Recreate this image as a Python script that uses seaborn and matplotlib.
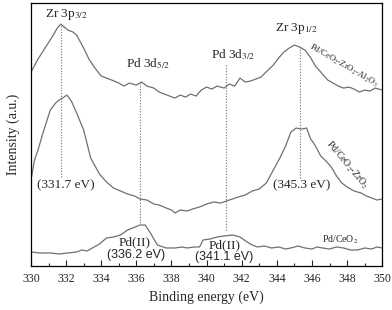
import numpy as np
import pandas as pd
import matplotlib
matplotlib.use("Agg")
import matplotlib.pyplot as plt
import seaborn as sns

# 三条XPS谱线 (结合能 eV, 强度 a.u.)
e_top = [330.0, 330.4, 330.8, 331.2, 331.5, 331.7, 331.9, 332.1, 332.4, 332.6, 333.0, 333.3, 333.6,
         334.0, 334.3, 334.6, 335.0, 335.3, 335.6, 336.0, 336.3, 336.6, 337.0, 337.3, 337.6, 337.9,
         338.2, 338.5, 338.8, 339.1, 339.4, 339.7, 340.0, 340.3, 340.6, 341.0, 341.3, 341.6, 341.9,
         342.2, 342.5, 342.8, 343.1, 343.5, 343.8, 344.1, 344.4, 344.7, 345.0, 345.3, 345.6, 345.9,
         346.2, 346.5, 346.9, 347.2, 347.5, 347.8, 348.1, 348.4, 348.7, 349.0, 349.3, 349.6, 350.0]
i_top = [194, 207, 218, 229, 238, 242, 239, 236, 234, 231, 218, 207, 199,
         190, 188, 186, 183, 180, 183, 181, 184, 180, 178, 174, 172, 170,
         168, 171, 169, 172, 170, 176, 179, 177, 180, 178, 182, 180, 188,
         184, 185, 187, 189, 196, 201, 208, 214, 218, 221, 219, 216, 209,
         200, 194, 186, 183, 180, 178, 179, 177, 174, 176, 175, 178, 176]

e_mid = [330.0, 330.2, 330.4, 330.7, 331.1, 331.4, 331.6, 331.8, 332.05, 332.3, 332.6, 333.0, 333.4,
         333.9, 334.3, 334.7, 335.1, 335.5, 335.9, 336.2, 336.6, 337.0, 337.3, 337.7, 338.0, 338.2,
         338.5, 338.9, 339.2, 339.6, 340.0, 340.4, 340.8, 341.3, 341.8, 342.2, 342.6, 343.0, 343.4,
         343.8, 344.2, 344.5, 344.8, 345.1, 345.4, 345.7, 345.9, 346.2, 346.5, 346.8, 347.1, 347.4,
         347.7, 348.0, 348.4, 348.8, 349.1, 349.4, 349.7, 350.0]
i_mid = [86, 106, 116, 134, 156, 163, 166, 168, 171, 165, 153, 136, 108,
         92, 84, 78, 75, 72, 70, 67, 66, 62, 61, 58, 56, 53,
         56, 55, 57, 59, 62, 64, 63, 66, 69, 71, 75, 77, 83,
         96, 109, 120, 134, 138, 137, 138, 128, 120, 110, 105, 99, 90,
         83, 79, 75, 73, 70, 68, 66, 67]

e_bot = [330.0, 330.5, 331.1, 331.6, 332.1, 332.6, 332.9, 333.2, 333.5, 333.9, 334.3, 334.7, 335.1,
         335.5, 335.8, 336.2, 336.5, 336.8, 337.2, 337.7, 338.2, 338.6, 338.9, 339.3, 339.6, 339.8,
         340.2, 340.6, 341.0, 341.5, 341.9, 342.3, 342.6, 342.9, 343.3, 343.7, 344.1, 344.5, 344.8,
         345.2, 345.6, 346.0, 346.3, 346.6, 347.0, 347.4, 347.8, 348.2, 348.6, 349.0, 349.4, 349.7, 350.0]
i_bot = [14, 13, 13, 12, 13, 14, 16, 15, 18, 22, 28, 29, 31,
         36, 38, 41, 41, 33, 21, 18, 18, 19, 18, 19, 19, 26,
         27, 29, 30, 31, 29, 24, 21, 19, 20, 18, 19, 17, 18,
         20, 18, 17, 19, 18, 17, 19, 18, 16, 16, 18, 17, 19, 18]

# 峰位标注
peak_pos = [331.7, 336.2, 341.1, 345.3]
peak_lo = [89, 43, 36, 88]
peak_hi = [242, 184, 201, 221]

sns.set_style("ticks")
plt.rcParams['font.family'] = ['Liberation Serif', 'DejaVu Serif']
plt.rcParams['mathtext.fontset'] = 'stix'

fig = plt.figure(figsize=(3.92, 3.10), dpi=100)
ax = fig.add_axes([0.079, 0.142, 0.896, 0.848])

for e, i in [(e_top, i_top), (e_mid, i_mid), (e_bot, i_bot)]:
    df = pd.DataFrame({'E': e, 'I': i})
    sns.lineplot(data=df, x='E', y='I', ax=ax, color='#707070', linewidth=0.9)

ax.vlines(peak_pos, peak_lo, peak_hi, colors='#707070', linestyles=(0, (1, 1.5)), linewidth=0.8)

ax.set_xlim(330, 350)
ax.set_ylim(0, 263)
ax.set_xticks(np.arange(330, 351, 2))
ax.set_xticks(np.arange(330, 351, 1), minor=True)
ax.set_yticks([])
ax.tick_params(axis='x', which='major', direction='in', length=4, width=0.8, labelsize=8.5, pad=5)
ax.tick_params(axis='x', which='minor', direction='in', length=2, width=0.8)
for s in ax.spines.values():
    s.set_linewidth(0.9)
    s.set_color('black')

ax.set_xlabel('Binding energy (eV)', fontsize=10, labelpad=4)
ax.set_ylabel('Intensity (a.u.)', fontsize=10, labelpad=8)

ax.text(332.0, 252, r'Zr 3p$_{3/2}$', fontsize=9.5, ha='center', va='center')
ax.text(336.7, 202, r'Pd 3d$_{5/2}$', fontsize=9.5, ha='center', va='center')
ax.text(341.5, 211, r'Pd 3d$_{3/2}$', fontsize=9.5, ha='center', va='center')
ax.text(345.1, 238, r'Zr 3p$_{1/2}$', fontsize=9.5, ha='center', va='center')
ax.text(332.0, 81, '(331.7 eV)', fontsize=9.5, ha='center', va='center')
ax.text(345.4, 81, '(345.3 eV)', fontsize=9.5, ha='center', va='center')
ax.text(335.9, 24, 'Pd(II)', fontsize=9.5, ha='center', va='center')
ax.text(336.0, 11, '(336.2 eV)', fontsize=9, ha='center', va='center',
        family=['Liberation Sans', 'DejaVu Sans'])
ax.text(341.0, 21, 'Pd(II)', fontsize=9.5, ha='center', va='center')
ax.text(341.0, 9, '(341.1 eV)', fontsize=9, ha='center', va='center',
        family=['Liberation Sans', 'DejaVu Sans'])
ax.text(347.6, 26, r'Pd/CeO$_2$', fontsize=7, ha='center', va='center')
ax.text(348.0, 101, r'Pd/CeO$_2$-ZrO$_2$', fontsize=7, ha='center', va='center', rotation=-50)
ax.text(347.8, 201, r'Pd/CeO$_2$-ZrO$_2$-Al$_2$O$_3$', fontsize=6.2, ha='center', va='center', rotation=-30)

fig.savefig('out.png', dpi=100)
